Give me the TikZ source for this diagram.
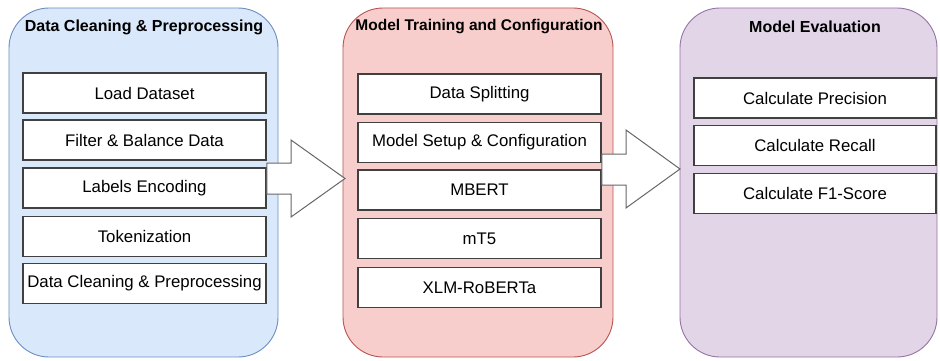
\documentclass[tikz,border=0pt]{standalone}
\usepackage{fontspec}
\setmainfont{Liberation Sans}
\usetikzlibrary{positioning}
\definecolor{blueFill}{HTML}{DAE8FC}
\definecolor{blueLine}{HTML}{6C8EBF}
\definecolor{redFill}{HTML}{F8CECC}
\definecolor{redLine}{HTML}{B85450}
\definecolor{purpleFill}{HTML}{E1D5E7}
\definecolor{purpleLine}{HTML}{9673A6}
\definecolor{boxLine}{HTML}{404040}
\tikzset{
  stage/.style={rounded corners=40pt, line width=0.9pt},
  stagetitle/.style={font=\fontsize{16}{18}\selectfont\bfseries, text=black, anchor=center},
  stepbox/.style={draw=boxLine, fill=white, line width=1.5pt, minimum width=243pt,
    minimum height=40pt, inner sep=0pt, font=\fontsize{16.8}{19}\selectfont, text=black},
  blockarrow/.style={draw=boxLine!80, fill=white, line width=1pt, line join=miter},
}
\begin{document}
\begin{tikzpicture}[x=1pt,y=-1pt]
\useasboundingbox (0,0) rectangle (940,361);
% stage containers
\draw[stage, fill=blueFill, draw=blueLine] (9,8) rectangle (278,357);
\draw[stage, fill=redFill, draw=redLine] (343,8) rectangle (613,357);
\draw[stage, fill=purpleFill, draw=purpleLine] (680,8) rectangle (937,357);
% stage titles
\node[stagetitle] (t1) at (144,27) {Data Cleaning \& Preprocessing};
\node[stagetitle, font=\fontsize{15.5}{18}\selectfont\bfseries] (t2) at (479,27) {Model Training and Configuration};
\node[stagetitle] (t3) at (815,27) {Model Evaluation};
% preprocessing steps
\node[stepbox] (a1) at (144.5,93) {Load Dataset};
\node[stepbox] (a2) at (144.5,140) {Filter \& Balance Data};
\node[stepbox] (a3) at (144.5,188) {Labels Encoding};
\node[stepbox] (a4) at (144.5,236.5) {Tokenization};
\node[stepbox] (a5) at (144.5,283.5) {Data Cleaning \& Preprocessing};
% training steps
\node[stepbox] (b1) at (479.5,94) {Data Splitting};
\node[stepbox] (b2) at (479.5,142.5) {Model Setup \& Configuration};
\node[stepbox] (b3) at (479.5,190) {MBERT};
\node[stepbox] (b4) at (479.5,238.5) {mT5};
\node[stepbox] (b5) at (479.5,287.5) {XLM-RoBERTa};
% evaluation steps
\node[stepbox, minimum width=242pt] (c1) at (815,98) {Calculate Precision};
\node[stepbox, minimum width=242pt] (c2) at (815,145.5) {Calculate Recall};
\node[stepbox, minimum width=242pt] (c3) at (815,193.5) {Calculate F1-Score};
% block arrows between stages
\draw[blockarrow] (a3.east |- 0,163) -- (291,163) -- (291,140) -- (345,178.5)
  -- (291,217) -- (291,194) -- (a3.east |- 0,194) -- cycle;
\draw[blockarrow] (b2.east |- 0,154) -- (626,154) -- (626,130) -- (680,169)
  -- (626,208) -- (626,185) -- (b2.east |- 0,185) -- cycle;
\end{tikzpicture}
\end{document}
